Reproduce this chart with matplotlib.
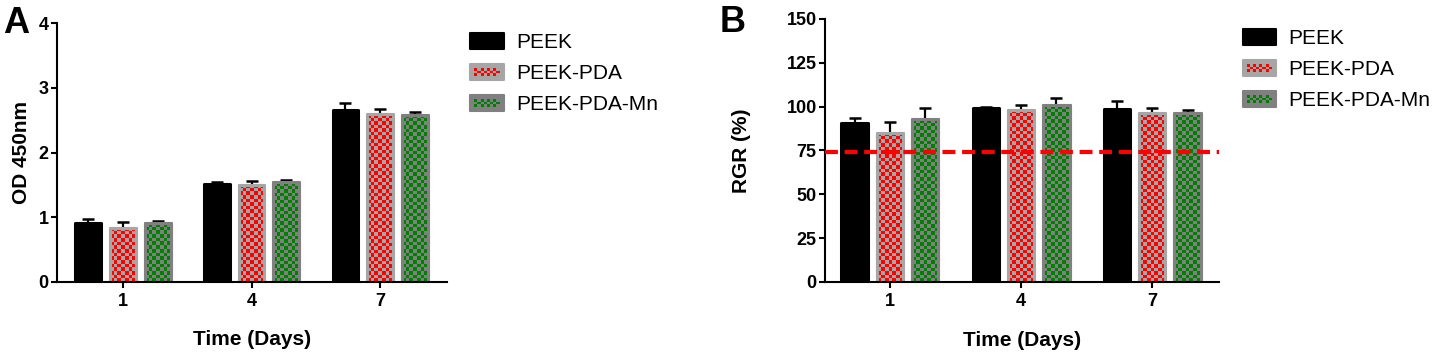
import numpy as np
import matplotlib
matplotlib.use('Agg')
import matplotlib.pyplot as plt
from matplotlib.colors import to_rgba
from matplotlib.patches import Rectangle, Patch
from matplotlib.legend_handler import HandlerBase

plt.rcParams['font.family'] = ['Liberation Sans', 'DejaVu Sans']

# data
days = ['1', '4', '7']
groups = ['PEEK', 'PEEK-PDA', 'PEEK-PDA-Mn']

od_peek = [0.91, 1.52, 2.65]
od_peek_err = [0.06, 0.02, 0.12]
od_pda = [0.84, 1.50, 2.59]
od_pda_err = [0.08, 0.06, 0.08]
od_mn = [0.91, 1.54, 2.58]
od_mn_err = [0.03, 0.03, 0.05]

rgr_peek = [90.5, 99.0, 98.5]
rgr_peek_err = [3.3, 1.0, 5.0]
rgr_pda = [85.0, 98.3, 96.2]
rgr_pda_err = [6.5, 2.5, 3.2]
rgr_mn = [92.8, 100.8, 96.2]
rgr_mn_err = [6.5, 4.0, 2.0]

rgr_limit = 74

# bar styles: (background, checker colour)
styles = [('black', None), ('#A6A6A6', '#FF0000'), ('#808080', '#008000')]


def checker_fill(ax, bar, bg, fg):
    bb = bar.get_window_extent()
    x0, y0 = bar.get_x(), bar.get_y()
    w, h = bar.get_width(), bar.get_height()
    nx = max(1, int(round(bb.width / 3.6)))
    ny = max(1, int(round(bb.height / 3.6)))
    ii, jj = np.indices((ny, nx))
    mask = (ii + jj) % 2 == 0
    img = np.zeros((ny, nx, 4))
    img[mask] = to_rgba(fg)
    img[~mask] = to_rgba(bg)
    im = ax.imshow(img, extent=(x0, x0 + w, y0, y0 + h), origin='lower',
                   interpolation='nearest', aspect='auto', zorder=2.1)
    im.set_clip_path(bar)


class CheckerHandler(HandlerBase):
    def __init__(self, bg, fg):
        super().__init__()
        self.bg = bg
        self.fg = fg

    def create_artists(self, legend, orig_handle, xdescent, ydescent,
                       width, height, fontsize, trans):
        x0, y0 = -xdescent, -ydescent
        arts = [Rectangle((x0, y0), width, height, facecolor=self.bg,
                          edgecolor=self.bg, lw=1.5, joinstyle='round',
                          transform=trans)]
        if self.fg is not None:
            nx, ny = 8, 3
            cw = width * 0.76 / nx
            ch = height * 0.5 / ny
            for i in range(nx):
                for j in range(ny):
                    if (i + j) % 2 == 0:
                        arts.append(Rectangle((x0 + width * 0.12 + i * cw,
                                               y0 + height * 0.25 + j * ch),
                                              cw, ch, facecolor=self.fg,
                                              lw=0, transform=trans))
        return arts


def draw_panel(ax, means, errs, ylim, yticks, ylabel, ylab_x, xlim):
    x = np.arange(len(days))
    offsets = [-0.27, 0.0, 0.27]
    width = 0.2
    ax.set_xlim(*xlim)
    ax.set_ylim(*ylim)
    for k in range(3):
        bg, fg = styles[k]
        ax.errorbar(x + offsets[k], means[k], yerr=errs[k], fmt='none',
                    ecolor='black', elinewidth=1.6, capsize=4, capthick=1.8,
                    zorder=1)
        bars = ax.bar(x + offsets[k], means[k], width, color=bg,
                      edgecolor=bg, linewidth=2.2, joinstyle='round', zorder=2)
        if fg is not None:
            for b in bars:
                checker_fill(ax, b, bg, fg)
            ax.bar(x + offsets[k], means[k], width, fill=False,
                   edgecolor=bg, linewidth=2.2, joinstyle='round', zorder=2.2)
    ax.set_xlim(*xlim)
    ax.set_ylim(*ylim)
    ax.set_xticks(x)
    ax.set_xticklabels(days)
    ax.set_yticks(yticks)
    for s in ['top', 'right']:
        ax.spines[s].set_visible(False)
    for s in ['left', 'bottom']:
        ax.spines[s].set_linewidth(1.5)
    ax.tick_params(axis='both', width=1.5, length=4, labelsize=13)
    ax.tick_params(axis='x', pad=4)
    ax.tick_params(axis='y', pad=2)
    for lab in ax.get_xticklabels() + ax.get_yticklabels():
        lab.set_fontweight('bold')
    ax.set_xlabel('Time (Days)', fontsize=15, fontweight='bold')
    ax.set_ylabel(ylabel, fontsize=15, fontweight='bold')
    ax.xaxis.set_label_coords(0.5, -0.185)
    ax.yaxis.set_label_coords(ylab_x, 0.5)

    handles = [Patch(label=g) for g in groups]
    hmap = {h: CheckerHandler(*styles[i]) for i, h in enumerate(handles)}
    ax.legend(handles=handles, handler_map=hmap, loc='upper left',
              bbox_to_anchor=(1.06, 0.962), frameon=False, fontsize=15,
              handlelength=1.6, handleheight=0.82, handletextpad=0.6,
              labelspacing=0.56, borderpad=0, borderaxespad=0)


fig = plt.figure(figsize=(14.38, 3.54), dpi=100)
ax1 = fig.add_axes([0.0396, 0.2034, 0.2712, 0.7316])
ax2 = fig.add_axes([0.5737, 0.2034, 0.274, 0.743])

draw_panel(ax1, [od_peek, od_pda, od_mn], [od_peek_err, od_pda_err, od_mn_err],
           (0, 4), [0, 1, 2, 3, 4], 'OD 450nm', -0.067, (-0.514, 2.52))
draw_panel(ax2, [rgr_peek, rgr_pda, rgr_mn],
           [rgr_peek_err, rgr_pda_err, rgr_mn_err],
           (0, 150), [0, 25, 50, 75, 100, 125, 150], 'RGR (%)', -0.188,
           (-0.496, 2.51))
ax2.axhline(rgr_limit, color='#FF0000', lw=3, ls=(0, (3.1, 1.6)), zorder=4)

fig.text(0.002, 0.907, 'A', fontsize=26, fontweight='bold', va='baseline')
fig.text(0.5007, 0.91, 'B', fontsize=26, fontweight='bold', va='baseline')

fig.savefig('out.png', dpi=100)
